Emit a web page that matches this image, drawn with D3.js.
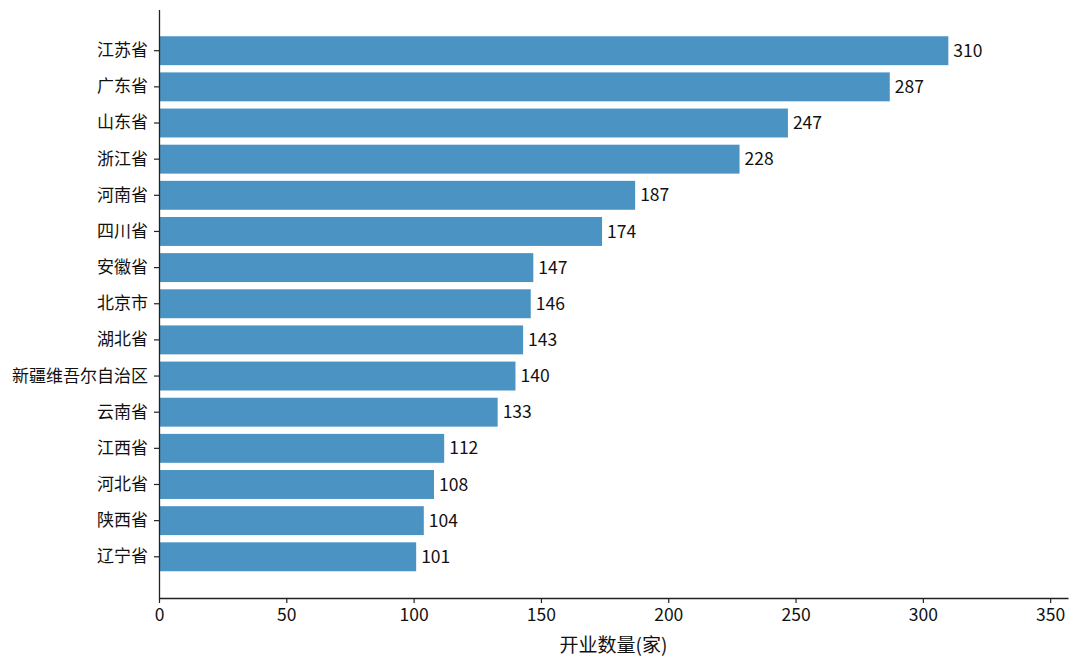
<!DOCTYPE html>
<html>
<head>
<meta charset="utf-8">
<script src="https://cdn.jsdelivr.net/npm/d3@7"></script>
<style>
  body { margin: 0; background: #fff; }
  text { font-family: "Noto Sans CJK SC", "Noto Sans", sans-serif; fill: #111; }
</style>
</head>
<body>
<svg id="chart" width="1080" height="667"></svg>
<script>
var provinces = ['江苏省', '广东省', '山东省', '浙江省', '河南省', '四川省', '安徽省', '北京市',
                 '湖北省', '新疆维吾尔自治区', '云南省', '江西省', '河北省', '陕西省', '辽宁省'];
var counts = [310, 287, 247, 228, 187, 174, 147, 146, 143, 140, 133, 112, 108, 104, 101];
var xTicks = [0, 50, 100, 150, 200, 250, 300, 350];
var xTitle = '开业数量(家)';

var svg = d3.select('#chart');
var plotLeft = 159, plotRight = 1068, plotTop = 9.5, plotBottom = 598;

var x = d3.scaleLinear().domain([0, 357]).range([plotLeft, plotRight]);
var y = d3.scaleBand().domain(provinces).range([plotTop, plotBottom])
    .paddingInner(0.2).paddingOuter(0.74);

var rows = provinces.map(function(p, i) { return {name: p, value: counts[i]}; });

// bars
svg.append('g').selectAll('rect')
    .data(rows)
    .enter().append('rect')
    .attr('x', x(0))
    .attr('y', function(d) { return y(d.name); })
    .attr('width', function(d) { return x(d.value) - x(0); })
    .attr('height', y.bandwidth())
    .attr('fill', '#4a93c2');

// value labels
svg.append('g').selectAll('text')
    .data(rows)
    .enter().append('text')
    .attr('x', function(d) { return x(d.value) + 5; })
    .attr('y', function(d) { return y(d.name) + y.bandwidth() / 2; })
    .attr('dy', '0.35em')
    .style('font-size', '17.5px')
    .text(function(d) { return d.value; });

// axes
var xAxis = svg.append('g')
    .attr('transform', 'translate(0,' + plotBottom + ')')
    .call(d3.axisBottom(x).tickValues(xTicks).tickSizeInner(5).tickSizeOuter(0).tickPadding(6));
var yAxis = svg.append('g')
    .attr('transform', 'translate(' + plotLeft + ',0)')
    .call(d3.axisLeft(y).tickSizeInner(5).tickSizeOuter(0).tickPadding(6));

[xAxis, yAxis].forEach(function(a) {
    a.select('.domain').attr('stroke', '#222').attr('stroke-width', 1.3);
    a.selectAll('.tick line').attr('stroke', '#222').attr('stroke-width', 1.2);
    a.selectAll('.tick text').style('font-size', '17px').style('font-family', '"Noto Sans CJK SC", "Noto Sans", sans-serif').attr('fill', '#111');
});
xAxis.selectAll('.tick text').style('font-size', '17.5px');

svg.append('text')
    .attr('x', (plotLeft + plotRight) / 2)
    .attr('y', 652)
    .attr('text-anchor', 'middle')
    .style('font-size', '19px')
    .text(xTitle);
</script>
</body>
</html>
